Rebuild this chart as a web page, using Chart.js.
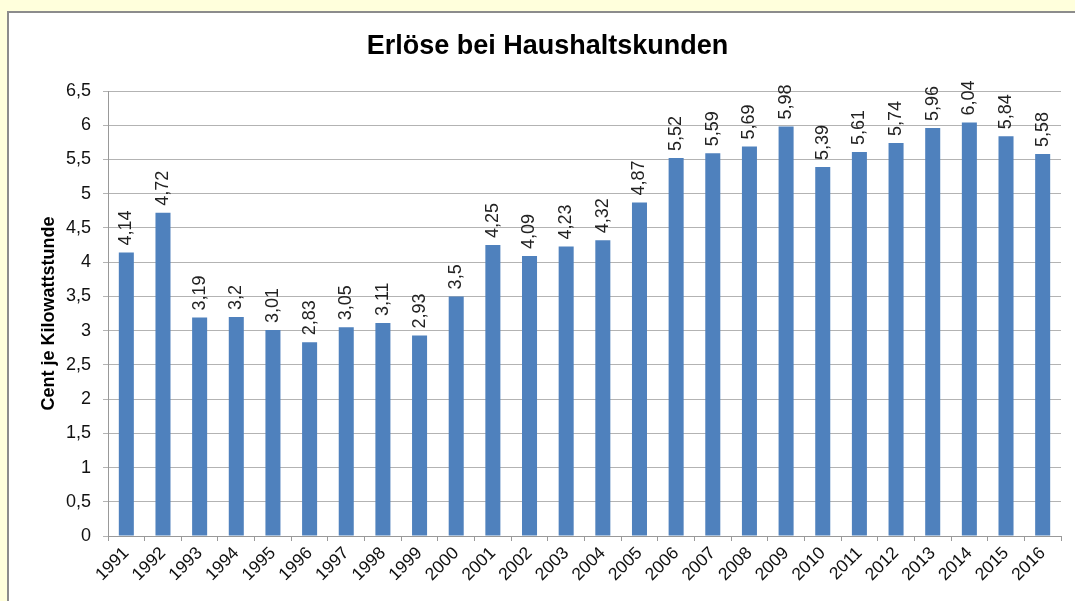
<!DOCTYPE html>
<html lang="de">
<head>
  <meta charset="UTF-8">
  <title>Erlöse bei Haushaltskunden</title>
  <script src="https://cdn.jsdelivr.net/npm/chart.js"></script>
  <style>
    body {
      margin: 0;
      padding: 0;
      background-color: #ffffdc;
      font-family: "Liberation Sans", Arial, sans-serif;
      overflow: hidden;
    }
    .frame {
      position: absolute;
      left: 7px;
      top: 11px;
      width: 1100px;
      height: 620px;
      background: #ffffff;
      border: 2px solid #8c8c8c;
    }
    .chart-container {
      position: absolute;
      left: 0;
      top: 0;
      width: 1075px;
      height: 601px;
    }
  </style>
</head>
<body>
  <div class="frame"></div>
  <div class="chart-container">
    <canvas id="revenueChart"></canvas>
  </div>
  <script>
    // Jahre und Erlöse (Cent je kWh)
    const years = ['1991', '1992', '1993', '1994', '1995', '1996', '1997', '1998', '1999', '2000',
      '2001', '2002', '2003', '2004', '2005', '2006', '2007', '2008', '2009', '2010',
      '2011', '2012', '2013', '2014', '2015', '2016'];
    const revenue = [4.14, 4.72, 3.19, 3.2, 3.01, 2.83, 3.05, 3.11, 2.93, 3.5,
      4.25, 4.09, 4.23, 4.32, 4.87, 5.52, 5.59, 5.69, 5.98, 5.39,
      5.61, 5.74, 5.96, 6.04, 5.84, 5.58];

    const yMin = 0;
    const yMax = 6.5;
    const yStep = 0.5;

    const toComma = (v) => String(v).replace('.', ',');

    // draws the rotated value above each bar
    const valueLabels = {
      id: 'valueLabels',
      afterDatasetsDraw(chart) {
        const ctx = chart.ctx;
        const meta = chart.getDatasetMeta(0);
        ctx.save();
        ctx.font = '18px "Liberation Sans", Arial, sans-serif';
        ctx.fillStyle = '#222222';
        ctx.textAlign = 'left';
        ctx.textBaseline = 'middle';
        meta.data.forEach((bar, i) => {
          ctx.save();
          ctx.translate(bar.x, bar.y - 7);
          ctx.rotate(-Math.PI / 2);
          ctx.fillText(toComma(revenue[i]), 0, 0);
          ctx.restore();
        });
        ctx.restore();
      }
    };

    new Chart(document.getElementById('revenueChart'), {
      type: 'bar',
      data: {
        labels: years,
        datasets: [{
          label: 'Erlöse',
          data: revenue,
          backgroundColor: '#4f81bd',
          borderWidth: 0,
          barPercentage: 0.41,
          categoryPercentage: 1.0
        }]
      },
      options: {
        responsive: true,
        maintainAspectRatio: false,
        animation: false,
        layout: {
          padding: { left: 34, right: 14, top: 0, bottom: 0 }
        },
        plugins: {
          legend: { display: false },
          tooltip: { enabled: false },
          title: {
            display: true,
            text: 'Erlöse bei Haushaltskunden',
            color: '#000000',
            font: { family: '"Liberation Sans", Arial, sans-serif', size: 27, weight: 'bold' },
            padding: { top: 30, bottom: 28.6 }
          }
        },
        scales: {
          x: {
            afterFit: (s) => { s.height = 65; },
            grid: {
              display: true,
              drawOnChartArea: false,
              tickLength: 5,
              color: '#999999',
              offset: true
            },
            border: { display: true, color: '#999999' },
            ticks: {
              minRotation: 45,
              maxRotation: 45,
              padding: 2,
              color: '#111111',
              font: { family: '"Liberation Sans", Arial, sans-serif', size: 17.5 }
            }
          },
          y: {
            min: yMin,
            max: yMax,
            afterFit: (s) => { s.width = 74; },
            grid: {
              color: '#b3b3b3',
              tickLength: 5
            },
            border: { display: true, color: '#999999' },
            ticks: {
              stepSize: yStep,
              padding: 12,
              color: '#111111',
              font: { family: '"Liberation Sans", Arial, sans-serif', size: 18 },
              callback: (v) => toComma(v)
            },
            title: {
              display: true,
              text: 'Cent je Kilowattstunde',
              color: '#000000',
              padding: { top: 4, bottom: 4 },
              font: { family: '"Liberation Sans", Arial, sans-serif', size: 18, weight: 'bold' }
            }
          }
        }
      },
      plugins: [valueLabels]
    });
  </script>
</body>
</html>
